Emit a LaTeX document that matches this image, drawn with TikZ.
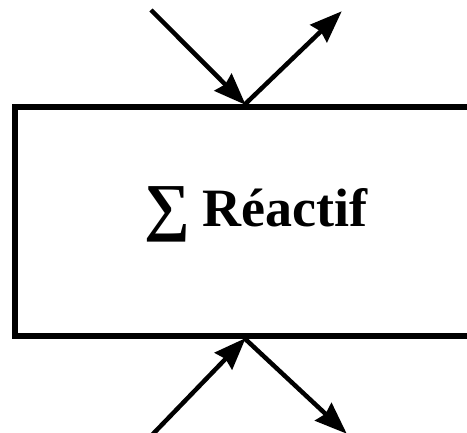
\documentclass[tikz,border=0pt]{standalone}
\usepackage{fontspec}
\setmainfont{Liberation Serif}
\usetikzlibrary{positioning,calc,arrows.meta}
\tikzset{
  figfont/.style={font=\fontsize{54}{60}\selectfont\bfseries},
  figbox/.style={draw, line width=5.5pt, minimum width=460pt, minimum height=229pt, inner sep=0pt},
  figarrow/.style={-{Stealth[length=32pt, width=24pt, inset=3pt]}, line width=4.5pt, shorten >=-1pt},
}
\begin{document}
\begin{tikzpicture}[x=1pt,y=-1pt]
	\useasboundingbox (0,0) rectangle (467,433);
	\clip (0,0) rectangle (467,433);
	% Reactive sum block (cut off on the right)
	\node[figbox] (box) at (245,221.5) {};
	\node[figfont, inner sep=0pt] (label) at (256,214)
	{\raisebox{-2pt}{\fontsize{64}{64}\selectfont ∑}\hspace{12pt}Réactif};

	% Free ends of the connectors
	\coordinate (inTop) at (151,10);
	\coordinate (outTop) at (341,12);
	\coordinate (inBot) at (152,435);
	\coordinate (outBot) at (346,433);

	% Top: incoming and outgoing flows
	\draw[figarrow] (inTop) -- (box.north);
	\draw[figarrow] (box.north) -- (outTop);

	% Bottom: incoming and outgoing flows
	\draw[figarrow] (inBot) -- (box.south);
	\draw[figarrow] (box.south) -- (outBot);
\end{tikzpicture}
\end{document}
